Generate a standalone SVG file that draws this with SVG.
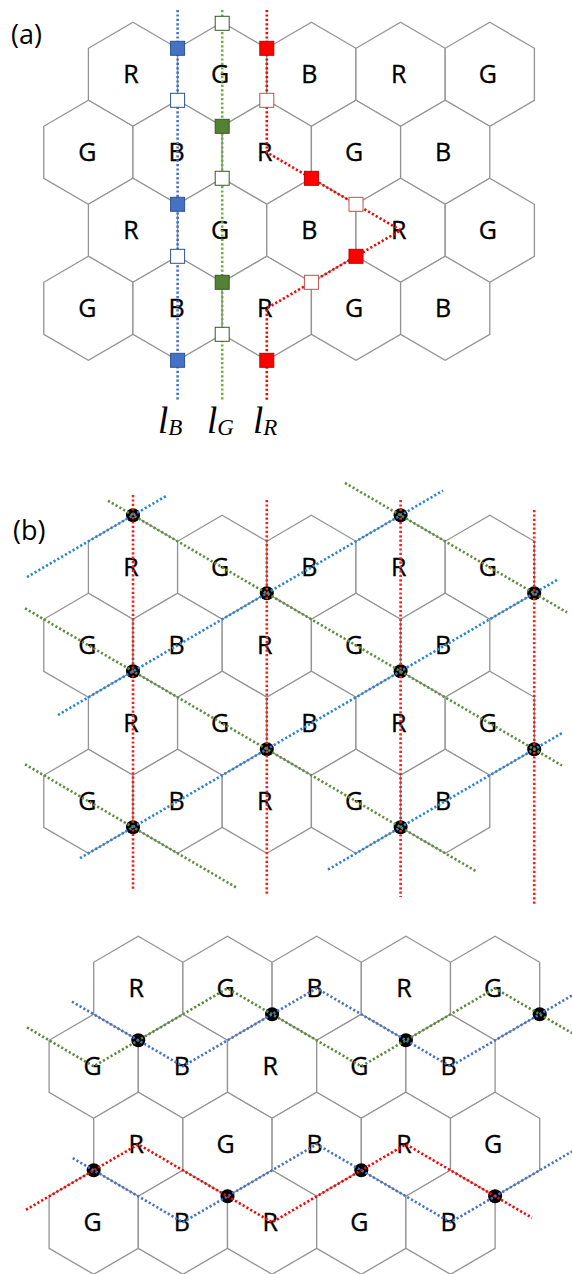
<svg xmlns="http://www.w3.org/2000/svg" width="572" height="1274" viewBox="0 0 572 1274">
<style>
.hx{fill:#fff;stroke:#939393;stroke-width:1.3}
.t{font-family:"Open Sans","Liberation Sans",sans-serif;font-size:25px;fill:#000;stroke:#000;stroke-width:0.35;text-anchor:middle}
.pl{font-family:"Open Sans","Liberation Sans",sans-serif;font-size:27px;fill:#000}
.m{font-family:"Liberation Serif","DejaVu Serif",serif;font-style:italic;font-size:37px;fill:#000}
.ms{font-size:23px}
.d{fill:none;stroke-width:2.6;stroke-dasharray:2.2 2.2}
.ba{stroke:#4472C4}.ga{stroke:#70AD47}.ra{stroke:#FF0000}
.bb{stroke:#2A83D4}.gb{stroke:#5E8E3E}.rb{stroke:#FF1A1A}
.gc{stroke:#5B8A37}
.sq{stroke-width:1}
.bf{fill:#4472C4;stroke:#2F528F}.be{fill:#fff;stroke:#2F528F}
.gf{fill:#548235;stroke:#385723}.ge{fill:#fff;stroke:#385723}
.rf{fill:#FF0000;stroke:#C00000}.re{fill:#fff;stroke:#C0504D}
.j{fill:#000}
</style>
<defs>
<polygon id="hex" class="hx" points="0,-52 44.6,-26 44.6,26 0,52 -44.6,26 -44.6,-26"/>
</defs>

<!-- ===== Panel (a) ===== -->
<text class="pl" x="11" y="44">(a)</text>
<g id="a-nodes">
<g id="a-r1c1"><use href="#hex" x="133" y="74.3"/><text class="t" x="131" y="83">R</text></g>
<g id="a-r1c2"><use href="#hex" x="222.2" y="74.3"/><text class="t" x="220.2" y="83">G</text></g>
<g id="a-r1c3"><use href="#hex" x="311.4" y="74.3"/><text class="t" x="309.4" y="83">B</text></g>
<g id="a-r1c4"><use href="#hex" x="400.6" y="74.3"/><text class="t" x="398.6" y="83">R</text></g>
<g id="a-r1c5"><use href="#hex" x="489.8" y="74.3"/><text class="t" x="487.8" y="83">G</text></g>
<g id="a-r2c1"><use href="#hex" x="88.4" y="152.3"/><text class="t" x="87.4" y="161">G</text></g>
<g id="a-r2c2"><use href="#hex" x="177.6" y="152.3"/><text class="t" x="176.6" y="161">B</text></g>
<g id="a-r2c3"><use href="#hex" x="266.8" y="152.3"/><text class="t" x="264.8" y="161">R</text></g>
<g id="a-r2c4"><use href="#hex" x="356" y="152.3"/><text class="t" x="354" y="161">G</text></g>
<g id="a-r2c5"><use href="#hex" x="445.2" y="152.3"/><text class="t" x="443.2" y="161">B</text></g>
<g id="a-r3c1"><use href="#hex" x="133" y="230.3"/><text class="t" x="131" y="239">R</text></g>
<g id="a-r3c2"><use href="#hex" x="222.2" y="230.3"/><text class="t" x="220.2" y="239">G</text></g>
<g id="a-r3c3"><use href="#hex" x="311.4" y="230.3"/><text class="t" x="309.4" y="239">B</text></g>
<g id="a-r3c4"><use href="#hex" x="400.6" y="230.3"/><text class="t" x="398.6" y="239">R</text></g>
<g id="a-r3c5"><use href="#hex" x="489.8" y="230.3"/><text class="t" x="487.8" y="239">G</text></g>
<g id="a-r4c1"><use href="#hex" x="88.4" y="308.3"/><text class="t" x="87.4" y="317">G</text></g>
<g id="a-r4c2"><use href="#hex" x="177.6" y="308.3"/><text class="t" x="176.6" y="317">B</text></g>
<g id="a-r4c3"><use href="#hex" x="266.8" y="308.3"/><text class="t" x="264.8" y="317">R</text></g>
<g id="a-r4c4"><use href="#hex" x="356" y="308.3"/><text class="t" x="354" y="317">G</text></g>
<g id="a-r4c5"><use href="#hex" x="445.2" y="308.3"/><text class="t" x="443.2" y="317">B</text></g>
</g>
<g id="a-connectors">
<path class="d ba" d="M177.6,10 V400"/>
<path class="d ga" d="M222.2,10 V400"/>
<path class="d ra" d="M266.8,10 V152.3 L311.4,178.3 L356,204.3 L400.6,230.3 L356,256.3 L311.4,282.3 L266.8,308.3 V400"/>
</g>
<g id="a-markers">
<rect class="sq bf" x="170.6" y="41.3" width="14" height="14"/>
<rect class="sq be" x="170.6" y="93.3" width="14" height="14"/>
<rect class="sq bf" x="170.6" y="197.3" width="14" height="14"/>
<rect class="sq be" x="170.6" y="249.3" width="14" height="14"/>
<rect class="sq bf" x="170.6" y="353.3" width="14" height="14"/>
<rect class="sq ge" x="215.2" y="16.3" width="14" height="14"/>
<rect class="sq gf" x="215.2" y="119.3" width="14" height="14"/>
<rect class="sq ge" x="215.2" y="171.3" width="14" height="14"/>
<rect class="sq gf" x="215.2" y="275.3" width="14" height="14"/>
<rect class="sq ge" x="215.2" y="327.3" width="14" height="14"/>
<rect class="sq rf" x="259.8" y="41.3" width="14" height="14"/>
<rect class="sq re" x="259.8" y="93.3" width="14" height="14"/>
<rect class="sq rf" x="304.4" y="171.3" width="14" height="14"/>
<rect class="sq re" x="349" y="197.3" width="14" height="14"/>
<rect class="sq rf" x="349" y="249.3" width="14" height="14"/>
<rect class="sq re" x="304.4" y="275.3" width="14" height="14"/>
<rect class="sq rf" x="259.8" y="353.3" width="14" height="14"/>
</g>
<g id="a-line-labels">
<text class="m" x="158" y="433">l<tspan class="ms" dy="2">B</tspan></text>
<text class="m" x="207" y="433">l<tspan class="ms" dy="2">G</tspan></text>
<text class="m" x="253" y="433">l<tspan class="ms" dy="2">R</tspan></text>
</g>

<!-- ===== Panel (b) ===== -->
<text class="pl" x="13" y="540">(b)</text>
<g id="b-nodes">
<g id="b-r1c1"><use href="#hex" x="133" y="567.3"/><text class="t" x="131" y="576">R</text></g>
<g id="b-r1c2"><use href="#hex" x="222.2" y="567.3"/><text class="t" x="220.2" y="576">G</text></g>
<g id="b-r1c3"><use href="#hex" x="311.4" y="567.3"/><text class="t" x="309.4" y="576">B</text></g>
<g id="b-r1c4"><use href="#hex" x="400.6" y="567.3"/><text class="t" x="398.6" y="576">R</text></g>
<g id="b-r1c5"><use href="#hex" x="489.8" y="567.3"/><text class="t" x="487.8" y="576">G</text></g>
<g id="b-r2c1"><use href="#hex" x="88.4" y="645.3"/><text class="t" x="87.4" y="654">G</text></g>
<g id="b-r2c2"><use href="#hex" x="177.6" y="645.3"/><text class="t" x="176.6" y="654">B</text></g>
<g id="b-r2c3"><use href="#hex" x="266.8" y="645.3"/><text class="t" x="264.8" y="654">R</text></g>
<g id="b-r2c4"><use href="#hex" x="356" y="645.3"/><text class="t" x="354" y="654">G</text></g>
<g id="b-r2c5"><use href="#hex" x="445.2" y="645.3"/><text class="t" x="443.2" y="654">B</text></g>
<g id="b-r3c1"><use href="#hex" x="133" y="723.3"/><text class="t" x="131" y="732">R</text></g>
<g id="b-r3c2"><use href="#hex" x="222.2" y="723.3"/><text class="t" x="220.2" y="732">G</text></g>
<g id="b-r3c3"><use href="#hex" x="311.4" y="723.3"/><text class="t" x="309.4" y="732">B</text></g>
<g id="b-r3c4"><use href="#hex" x="400.6" y="723.3"/><text class="t" x="398.6" y="732">R</text></g>
<g id="b-r3c5"><use href="#hex" x="489.8" y="723.3"/><text class="t" x="487.8" y="732">G</text></g>
<g id="b-r4c1"><use href="#hex" x="88.4" y="801.3"/><text class="t" x="87.4" y="810">G</text></g>
<g id="b-r4c2"><use href="#hex" x="177.6" y="801.3"/><text class="t" x="176.6" y="810">B</text></g>
<g id="b-r4c3"><use href="#hex" x="266.8" y="801.3"/><text class="t" x="264.8" y="810">R</text></g>
<g id="b-r4c4"><use href="#hex" x="356" y="801.3"/><text class="t" x="354" y="810">G</text></g>
<g id="b-r4c5"><use href="#hex" x="445.2" y="801.3"/><text class="t" x="443.2" y="810">B</text></g>
</g>
<g id="b-junctions">
<circle class="j" cx="133" cy="515.3" r="7"/>
<circle class="j" cx="400.6" cy="515.3" r="7"/>
<circle class="j" cx="266.8" cy="593.3" r="7"/>
<circle class="j" cx="534.2" cy="593.3" r="7"/>
<circle class="j" cx="133" cy="671.3" r="7"/>
<circle class="j" cx="400.6" cy="671.3" r="7"/>
<circle class="j" cx="266.8" cy="749.3" r="7"/>
<circle class="j" cx="534.2" cy="749.3" r="7"/>
<circle class="j" cx="133" cy="827.3" r="7"/>
<circle class="j" cx="400.6" cy="827.3" r="7"/>
</g>
<g id="b-connectors">
<path class="d rb" d="M133,495 V890"/>
<path class="d rb" d="M266.8,500 V895"/>
<path class="d rb" d="M400.6,500 V897"/>
<path class="d rb" d="M534.2,510 V906"/>
<path class="d bb" d="M27,577.1 L167,495.5"/>
<path class="d bb" d="M58,715 L443,490.6"/>
<path class="d bb" d="M80,858.2 L558,579.4"/>
<path class="d bb" d="M328,869.6 L563,732.5"/>
<path class="d gb" d="M108,500.7 L562,765.5"/>
<path class="d gb" d="M25,608.3 L477,871.8"/>
<path class="d gb" d="M25,764.3 L237,887.9"/>
<path class="d gb" d="M345,482.9 L567,612.4"/>
</g>

<!-- ===== Bottom panel ===== -->
<g id="c-nodes">
<g id="c-r1c1"><use href="#hex" x="138.3" y="988.3"/><text class="t" x="136.3" y="997">R</text></g>
<g id="c-r1c2"><use href="#hex" x="227.5" y="988.3"/><text class="t" x="225.5" y="997">G</text></g>
<g id="c-r1c3"><use href="#hex" x="316.7" y="988.3"/><text class="t" x="314.7" y="997">B</text></g>
<g id="c-r1c4"><use href="#hex" x="405.9" y="988.3"/><text class="t" x="403.9" y="997">R</text></g>
<g id="c-r1c5"><use href="#hex" x="495.1" y="988.3"/><text class="t" x="493.1" y="997">G</text></g>
<g id="c-r2c1"><use href="#hex" x="93.7" y="1066.3"/><text class="t" x="92.7" y="1075">G</text></g>
<g id="c-r2c2"><use href="#hex" x="182.9" y="1066.3"/><text class="t" x="181.9" y="1075">B</text></g>
<g id="c-r2c3"><use href="#hex" x="272.1" y="1066.3"/><text class="t" x="270.1" y="1075">R</text></g>
<g id="c-r2c4"><use href="#hex" x="361.3" y="1066.3"/><text class="t" x="359.3" y="1075">G</text></g>
<g id="c-r2c5"><use href="#hex" x="450.5" y="1066.3"/><text class="t" x="448.5" y="1075">B</text></g>
<g id="c-r3c1"><use href="#hex" x="138.3" y="1144.3"/><text class="t" x="136.3" y="1153">R</text></g>
<g id="c-r3c2"><use href="#hex" x="227.5" y="1144.3"/><text class="t" x="225.5" y="1153">G</text></g>
<g id="c-r3c3"><use href="#hex" x="316.7" y="1144.3"/><text class="t" x="314.7" y="1153">B</text></g>
<g id="c-r3c4"><use href="#hex" x="405.9" y="1144.3"/><text class="t" x="403.9" y="1153">R</text></g>
<g id="c-r3c5"><use href="#hex" x="495.1" y="1144.3"/><text class="t" x="493.1" y="1153">G</text></g>
<g id="c-r4c1"><use href="#hex" x="93.7" y="1222.3"/><text class="t" x="92.7" y="1231">G</text></g>
<g id="c-r4c2"><use href="#hex" x="182.9" y="1222.3"/><text class="t" x="181.9" y="1231">B</text></g>
<g id="c-r4c3"><use href="#hex" x="272.1" y="1222.3"/><text class="t" x="270.1" y="1231">R</text></g>
<g id="c-r4c4"><use href="#hex" x="361.3" y="1222.3"/><text class="t" x="359.3" y="1231">G</text></g>
<g id="c-r4c5"><use href="#hex" x="450.5" y="1222.3"/><text class="t" x="448.5" y="1231">B</text></g>
</g>
<g id="c-junctions">
<circle class="j" cx="138.3" cy="1040.3" r="7"/>
<circle class="j" cx="272.1" cy="1014.3" r="7"/>
<circle class="j" cx="405.9" cy="1040.3" r="7"/>
<circle class="j" cx="539.7" cy="1014.3" r="7"/>
<circle class="j" cx="93.7" cy="1170.3" r="7"/>
<circle class="j" cx="227.5" cy="1196.3" r="7"/>
<circle class="j" cx="361.3" cy="1170.3" r="7"/>
<circle class="j" cx="495.1" cy="1196.3" r="7"/>
</g>
<g id="c-connectors">
<path class="d gc" d="M27,1027.4 L93.7,1066.3 L138.3,1040.3 L182.9,1014.3 L227.5,988.3 L272.1,1014.3 L316.7,1040.3 L361.3,1066.3 L405.9,1040.3 L450.5,1014.3 L495.1,988.3 L539.7,1014.3 L572,1033.1"/>
<path class="d ba" d="M72,1001.6 L93.7,1014.3 L138.3,1040.3 L182.9,1066.3 L227.5,1040.3 L272.1,1014.3 L316.7,988.3 L361.3,1014.3 L405.9,1040.3 L450.5,1066.3 L495.1,1040.3 L539.7,1014.3 L572,995.5"/>
<path class="d ra" d="M26,1209.8 L93.7,1170.3 L138.3,1144.3 L182.9,1170.3 L227.5,1196.3 L272.1,1222.3 L316.7,1196.3 L361.3,1170.3 L405.9,1144.3 L450.5,1170.3 L495.1,1196.3 L532,1217.8"/>
<path class="d ba" d="M72.7,1158.1 L93.7,1170.3 L138.3,1196.3 L182.9,1222.3 L227.5,1196.3 L272.1,1170.3 L316.7,1144.3 L361.3,1170.3 L405.9,1196.3 L450.5,1222.3 L495.1,1196.3 L539.7,1170.3 L572,1151.5"/>
</g>
</svg>
